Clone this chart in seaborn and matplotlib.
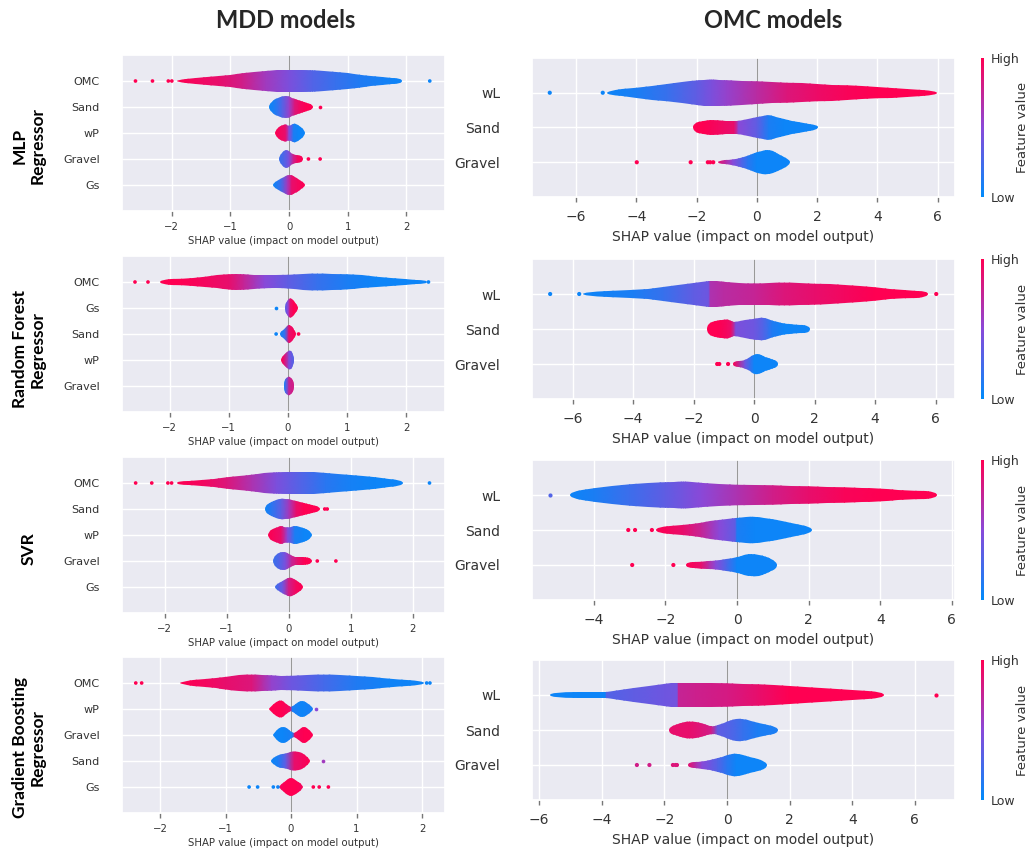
"""
SHAP violin summary plots: MDD models (left) and OMC models (right)
"""

import numpy as np
import matplotlib
matplotlib.use("Agg")
import matplotlib.pyplot as plt
import seaborn as sns
from matplotlib.colors import LinearSegmentedColormap, Normalize
from matplotlib.cm import ScalarMappable
from matplotlib.path import Path
from matplotlib.patches import PathPatch
from matplotlib.ticker import MultipleLocator

sns.set_theme(style="darkgrid")
plt.rcParams["font.family"] = "DejaVu Sans"

CMAP = LinearSegmentedColormap.from_list("shap_red_blue", ["#008bfb", "#8a49d9", "#ff0052"])
XLABEL = "SHAP value (impact on model output)"
WIDTH_SCALE = 1.25   # violin thickness, like shap's width setting

# each violin: knots X (shap value), W (half width, row units), V (feature value 0=low 1=high)
# ── MLP / MDD ────────────────────────────────────────────────────────────────
MLP_MDD_FEATURES = ["OMC", "Sand", "wP", "Gravel", "Gs"]
MLP_MDD_X = [[-1.91, -1.6, -1.2, -0.8, -0.4, 0.0, 0.4, 0.8, 1.2, 1.6, 1.92],
             [-0.34, -0.25, -0.12, 0.0, 0.1, 0.2, 0.3, 0.41],
             [-0.24, -0.15, -0.06, 0.0, 0.08, 0.16, 0.27],
             [-0.17, -0.08, 0.0, 0.08, 0.15, 0.24],
             [-0.27, -0.15, -0.03, 0.05, 0.15, 0.27]]
MLP_MDD_W = [[0.04, 0.08, 0.14, 0.24, 0.32, 0.35, 0.34, 0.28, 0.2, 0.12, 0.08],
             [0.08, 0.25, 0.33, 0.33, 0.25, 0.18, 0.12, 0.06],
             [0.06, 0.22, 0.28, 0.2, 0.3, 0.26, 0.06],
             [0.08, 0.28, 0.25, 0.12, 0.12, 0.06],
             [0.05, 0.18, 0.32, 0.3, 0.2, 0.06]]
MLP_MDD_V = [[1.0, 0.95, 0.9, 0.8, 0.6, 0.45, 0.3, 0.2, 0.12, 0.08, 0.05],
             [0.05, 0.1, 0.3, 0.55, 0.85, 0.95, 1.0, 1.0],
             [1.0, 0.95, 0.9, 0.5, 0.1, 0.05, 0.05],
             [0.2, 0.3, 0.45, 0.8, 0.95, 1.0],
             [0.05, 0.2, 0.6, 0.9, 0.95, 1.0]]
MLP_MDD_DOT_X = [[-2.62, -2.33, -2.06, -2.0, 2.40], [0.52], [], [0.33, 0.53], []]
MLP_MDD_DOT_V = [[1.0, 1.0, 1.0, 1.0, 0.05], [1.0], [], [1.0, 1.0], []]

# ── Random Forest / MDD ──────────────────────────────────────────────────────
RF_MDD_FEATURES = ["OMC", "Gs", "Sand", "wP", "Gravel"]
RF_MDD_X = [[-2.17, -1.8, -1.4, -1.0, -0.75, -0.4, 0.0, 0.5, 1.0, 1.5, 2.0, 2.35],
            [-0.05, 0.0, 0.04, 0.1, 0.17],
            [-0.14, -0.05, 0.02, 0.08, 0.14],
            [-0.11, -0.04, 0.02, 0.07, 0.11],
            [-0.07, -0.03, 0.02, 0.07, 0.1]]
RF_MDD_W = [[0.06, 0.1, 0.16, 0.24, 0.26, 0.2, 0.2, 0.28, 0.24, 0.16, 0.09, 0.05],
            [0.08, 0.25, 0.32, 0.22, 0.05],
            [0.05, 0.15, 0.32, 0.2, 0.05],
            [0.05, 0.22, 0.3, 0.25, 0.06],
            [0.1, 0.25, 0.3, 0.22, 0.08]]
RF_MDD_V = [[1.0, 1.0, 0.95, 0.9, 0.75, 0.5, 0.35, 0.2, 0.1, 0.05, 0.05, 0.05],
            [0.3, 0.5, 0.9, 1.0, 1.0],
            [0.05, 0.2, 0.9, 0.95, 1.0],
            [1.0, 0.8, 0.45, 0.35, 0.3],
            [0.05, 0.3, 0.75, 0.8, 0.8]]
RF_MDD_DOT_X = [[-2.59, -2.37, 2.38], [-0.2], [-0.2, 0.18], [], []]
RF_MDD_DOT_V = [[1.0, 1.0, 0.05], [0.05], [0.05, 1.0], [], []]

# ── SVR / MDD ────────────────────────────────────────────────────────────────
SVR_MDD_FEATURES = ["OMC", "Sand", "wP", "Gravel", "Gs"]
SVR_MDD_X = [[-1.81, -1.4, -1.0, -0.6, -0.2, 0.2, 0.6, 1.0, 1.4, 1.84],
             [-0.39, -0.28, -0.12, 0.0, 0.12, 0.25, 0.38, 0.5],
             [-0.34, -0.22, -0.12, -0.02, 0.1, 0.25, 0.37],
             [-0.26, -0.15, -0.05, 0.05, 0.15, 0.27, 0.37],
             [-0.23, -0.1, 0.0, 0.12, 0.23]]
SVR_MDD_W = [[0.05, 0.1, 0.17, 0.26, 0.33, 0.35, 0.32, 0.25, 0.17, 0.1],
             [0.08, 0.22, 0.33, 0.3, 0.25, 0.18, 0.12, 0.06],
             [0.06, 0.22, 0.3, 0.22, 0.3, 0.22, 0.06],
             [0.08, 0.28, 0.28, 0.14, 0.13, 0.12, 0.06],
             [0.05, 0.2, 0.32, 0.22, 0.05]]
SVR_MDD_V = [[1.0, 0.95, 0.85, 0.65, 0.45, 0.3, 0.15, 0.08, 0.05, 0.05],
             [0.05, 0.15, 0.35, 0.6, 0.9, 1.0, 1.0, 1.0],
             [1.0, 0.95, 0.9, 0.5, 0.1, 0.05, 0.05],
             [0.2, 0.3, 0.45, 0.75, 0.9, 1.0, 1.0],
             [0.2, 0.4, 0.8, 0.95, 1.0]]
SVR_MDD_DOT_X = [[-2.47, -2.21, -1.95, -1.89, 2.27], [0.58, 0.62], [], [0.46, 0.76], []]
SVR_MDD_DOT_V = [[1.0, 1.0, 1.0, 1.0, 0.05], [1.0, 1.0], [], [1.0, 1.0], []]

# ── Gradient Boosting / MDD ──────────────────────────────────────────────────
GB_MDD_FEATURES = ["OMC", "wP", "Gravel", "Sand", "Gs"]
GB_MDD_X = [[-1.7, -1.3, -1.0, -0.6, -0.3, 0.0, 0.5, 1.0, 1.5, 2.03],
            [-0.33, -0.15, -0.02, 0.02, 0.17, 0.33],
            [-0.28, -0.12, 0.02, 0.06, 0.2, 0.33],
            [-0.3, -0.2, -0.08, 0.05, 0.18, 0.29],
            [-0.18, -0.08, 0.0, 0.08, 0.18]]
GB_MDD_W = [[0.04, 0.12, 0.2, 0.28, 0.24, 0.22, 0.28, 0.22, 0.13, 0.07],
            [0.04, 0.33, 0.06, 0.06, 0.3, 0.05],
            [0.04, 0.32, 0.06, 0.06, 0.3, 0.05],
            [0.05, 0.2, 0.22, 0.32, 0.25, 0.05],
            [0.04, 0.2, 0.32, 0.2, 0.04]]
GB_MDD_V = [[1.0, 0.95, 0.9, 0.85, 0.55, 0.4, 0.25, 0.12, 0.06, 0.05],
            [1.0, 1.0, 0.95, 0.1, 0.05, 0.1],
            [0.05, 0.05, 0.1, 0.95, 1.0, 1.0],
            [0.05, 0.1, 0.35, 0.9, 0.95, 1.0],
            [0.95, 1.0, 1.0, 1.0, 0.95]]
GB_MDD_DOT_X = [[-2.37, -2.28, 2.07, 2.12], [0.38], [], [0.49],
                [-0.64, -0.51, -0.27, -0.2, 0.34, 0.43, 0.57]]
GB_MDD_DOT_V = [[1.0, 1.0, 0.05, 0.05], [0.5], [], [0.6],
                [0.05, 0.05, 0.05, 0.05, 1.0, 1.0, 1.0]]

# ── MLP / OMC ────────────────────────────────────────────────────────────────
MLP_OMC_FEATURES = ["wL", "Sand", "Gravel"]
MLP_OMC_X = [[-4.99, -4.0, -3.0, -2.0, -1.5, -1.0, 0.0, 1.0, 2.0, 3.0, 4.0, 5.0, 5.98],
             [-2.13, -1.8, -1.3, -0.75, -0.6, 0.0, 0.4, 0.9, 1.4, 2.03],
             [-1.3, -0.8, -0.3, 0.0, 0.35, 0.7, 1.09]]
MLP_OMC_W = [[0.05, 0.12, 0.2, 0.29, 0.31, 0.3, 0.26, 0.23, 0.2, 0.17, 0.13, 0.09, 0.05],
             [0.08, 0.16, 0.17, 0.15, 0.16, 0.24, 0.3, 0.2, 0.12, 0.06],
             [0.03, 0.06, 0.15, 0.24, 0.3, 0.2, 0.06]]
MLP_OMC_V = [[0.05, 0.1, 0.2, 0.35, 0.45, 0.55, 0.7, 0.85, 0.92, 0.97, 1.0, 1.0, 1.0],
             [1.0, 1.0, 0.95, 0.9, 0.5, 0.35, 0.1, 0.05, 0.05, 0.05],
             [0.9, 0.5, 0.15, 0.05, 0.05, 0.05, 0.05]]
MLP_OMC_DOT_X = [[-6.88, -5.12], [], [-3.99, -2.2, -1.63, -1.55, -1.45]]
MLP_OMC_DOT_V = [[0.05, 0.05], [], [1.0, 1.0, 1.0, 1.0, 1.0]]

# ── Random Forest / OMC ──────────────────────────────────────────────────────
RF_OMC_FEATURES = ["wL", "Sand", "Gravel"]
RF_OMC_X = [[-5.66, -4.0, -3.0, -2.0, -1.5, -1.45, -1.0, 0.0, 1.0, 2.0, 3.0, 4.0, 5.0, 5.75],
            [-1.55, -1.2, -0.9, -0.75, -0.6, 0.0, 0.3, 0.6, 1.0, 1.4, 1.85],
            [-0.69, -0.3, 0.0, 0.25, 0.5, 0.8]]
RF_OMC_W = [[0.05, 0.09, 0.16, 0.26, 0.3, 0.3, 0.28, 0.24, 0.27, 0.24, 0.2, 0.15, 0.1, 0.06],
            [0.12, 0.2, 0.22, 0.18, 0.15, 0.24, 0.28, 0.18, 0.12, 0.1, 0.08],
            [0.06, 0.08, 0.24, 0.2, 0.14, 0.06]]
RF_OMC_V = [[0.05, 0.1, 0.2, 0.35, 0.4, 0.65, 0.7, 0.75, 0.85, 0.9, 0.95, 1.0, 1.0, 1.0],
            [1.0, 1.0, 0.95, 0.9, 0.45, 0.4, 0.3, 0.12, 0.05, 0.05, 0.05],
            [1.0, 0.4, 0.05, 0.05, 0.05, 0.05]]
RF_OMC_DOT_X = [[-6.74, -5.78, 6.02], [], [-1.22, -1.15, -0.86]]
RF_OMC_DOT_V = [[0.05, 0.05, 1.0], [], [1.0, 1.0, 1.0]]

# ── SVR / OMC ────────────────────────────────────────────────────────────────
SVR_OMC_FEATURES = ["wL", "Sand", "Gravel"]
SVR_OMC_X = [[-4.66, -4.0, -3.0, -2.0, -1.5, -1.0, 0.0, 1.0, 2.0, 3.0, 4.0, 5.0, 5.58],
             [-2.26, -1.5, -1.0, -0.5, -0.05, 0.0, 0.5, 1.0, 1.5, 2.09],
             [-1.42, -1.0, -0.6, 0.0, 0.4, 0.8, 1.12]]
SVR_OMC_W = [[0.07, 0.17, 0.25, 0.3, 0.31, 0.27, 0.22, 0.22, 0.2, 0.18, 0.15, 0.1, 0.07],
             [0.07, 0.12, 0.17, 0.22, 0.28, 0.28, 0.31, 0.25, 0.15, 0.07],
             [0.07, 0.08, 0.1, 0.17, 0.28, 0.2, 0.08]]
SVR_OMC_V = [[0.05, 0.1, 0.22, 0.35, 0.42, 0.5, 0.65, 0.8, 0.9, 0.97, 1.0, 1.0, 1.0],
             [1.0, 0.9, 0.75, 0.5, 0.35, 0.1, 0.05, 0.05, 0.05, 0.05],
             [1.0, 0.9, 0.5, 0.05, 0.05, 0.05, 0.05]]
SVR_OMC_DOT_X = [[-5.22], [-3.04, -2.85, -2.38], [-2.93, -1.78]]
SVR_OMC_DOT_V = [[0.3], [1.0, 1.0, 1.0], [1.0, 1.0]]

# ── Gradient Boosting / OMC ──────────────────────────────────────────────────
GB_OMC_FEATURES = ["wL", "Sand", "Gravel"]
GB_OMC_X = [[-5.65, -3.9, -3.85, -3.0, -2.0, -1.6, -1.55, -1.0, 0.0, 1.0, 2.0, 3.0, 4.0, 5.02],
            [-1.85, -1.5, -1.2, -0.8, -0.5, -0.3, 0.1, 0.5, 1.0, 1.63],
            [-1.25, -0.8, -0.3, 0.0, 0.3, 0.7, 1.27]]
GB_OMC_W = [[0.06, 0.06, 0.07, 0.15, 0.25, 0.28, 0.28, 0.28, 0.27, 0.25, 0.2, 0.15, 0.11, 0.07],
            [0.08, 0.17, 0.21, 0.16, 0.08, 0.12, 0.22, 0.27, 0.16, 0.08],
            [0.07, 0.08, 0.15, 0.22, 0.28, 0.18, 0.08]]
GB_OMC_V = [[0.05, 0.05, 0.3, 0.35, 0.4, 0.42, 0.75, 0.78, 0.82, 0.9, 1.0, 1.0, 1.0, 1.0],
            [0.9, 0.9, 0.9, 0.85, 0.8, 0.35, 0.3, 0.2, 0.1, 0.1],
            [0.9, 0.5, 0.3, 0.15, 0.05, 0.05, 0.05]]
GB_OMC_DOT_X = [[6.68], [], [-2.88, -2.48, -1.73, -1.65, -1.6]]
GB_OMC_DOT_V = [[1.0], [], [0.8, 0.8, 0.85, 0.85, 0.85]]

ROW_LABELS = ["MLP\nRegressor", "Random Forest\nRegressor", "SVR", "Gradient Boosting\nRegressor"]
COL_TITLES = ["MDD models", "OMC models"]

# layout in pixels (figure is 1033 x 850)
W_PX, H_PX = 1033, 850
LEFT_X = (122, 445)
RIGHT_X = (532, 955)
LEFT_Y = [(55, 211), (256, 412), (457, 613), (657, 813)]
RIGHT_Y = [(58, 197), (259, 399), (460, 600), (660, 800)]
LEFT_XLIM = [(-2.85, 2.66), (-2.81, 2.66), (-2.69, 2.52), (-2.58, 2.35)]
RIGHT_XLIM = [(-7.47, 6.58), (-7.34, 6.64), (-5.73, 6.09), (-6.23, 7.28)]
ROW_LABEL_Y = [146, 349, 549, 748]

LEFT_DATA = [
    (MLP_MDD_FEATURES, MLP_MDD_X, MLP_MDD_W, MLP_MDD_V, MLP_MDD_DOT_X, MLP_MDD_DOT_V),
    (RF_MDD_FEATURES, RF_MDD_X, RF_MDD_W, RF_MDD_V, RF_MDD_DOT_X, RF_MDD_DOT_V),
    (SVR_MDD_FEATURES, SVR_MDD_X, SVR_MDD_W, SVR_MDD_V, SVR_MDD_DOT_X, SVR_MDD_DOT_V),
    (GB_MDD_FEATURES, GB_MDD_X, GB_MDD_W, GB_MDD_V, GB_MDD_DOT_X, GB_MDD_DOT_V),
]
RIGHT_DATA = [
    (MLP_OMC_FEATURES, MLP_OMC_X, MLP_OMC_W, MLP_OMC_V, MLP_OMC_DOT_X, MLP_OMC_DOT_V),
    (RF_OMC_FEATURES, RF_OMC_X, RF_OMC_W, RF_OMC_V, RF_OMC_DOT_X, RF_OMC_DOT_V),
    (SVR_OMC_FEATURES, SVR_OMC_X, SVR_OMC_W, SVR_OMC_V, SVR_OMC_DOT_X, SVR_OMC_DOT_V),
    (GB_OMC_FEATURES, GB_OMC_X, GB_OMC_W, GB_OMC_V, GB_OMC_DOT_X, GB_OMC_DOT_V),
]


def px_rect(xr, yr):
    return [xr[0] / W_PX, 1 - yr[1] / H_PX, (xr[1] - xr[0]) / W_PX, (yr[1] - yr[0]) / H_PX]


def violin_path(xs, ws, y):
    # closed outline smoothed with quadratic curves through the knot midpoints
    pts = [(x, y + w) for x, w in zip(xs, ws)] + [(x, y - w) for x, w in zip(xs[::-1], ws[::-1])]
    n = len(pts)
    mids = [((pts[i][0] + pts[(i + 1) % n][0]) / 2, (pts[i][1] + pts[(i + 1) % n][1]) / 2)
            for i in range(n)]
    verts, codes = [mids[-1]], [Path.MOVETO]
    for i in range(n):
        verts += [pts[i], mids[i]]
        codes += [Path.CURVE3, Path.CURVE3]
    verts.append(mids[-1])
    codes.append(Path.CLOSEPOLY)
    return Path(verts, codes)


def draw_panel(ax, data, xlim, step, small):
    feats, X, Wd, V, DX, DV = data
    n = len(feats)
    ax.set_axisbelow(True)
    ax.axvline(0, color="#999999", lw=0.8, zorder=1)
    for i, f in enumerate(feats):
        yy = n - 1 - i
        xs, vs = np.array(X[i]), np.array(V[i])
        ws = np.array(Wd[i]) * WIDTH_SCALE
        patch = PathPatch(violin_path(xs, ws, yy), transform=ax.transData,
                          facecolor="none", edgecolor="none")
        ax.add_patch(patch)
        mesh = ax.pcolormesh(np.vstack([xs, xs]),
                             np.vstack([np.full(len(xs), yy - 0.5), np.full(len(xs), yy + 0.5)]),
                             np.vstack([vs, vs]), shading="gouraud", cmap=CMAP,
                             vmin=0, vmax=1, zorder=2)
        mesh.set_clip_path(patch)
        if DX[i]:
            sns.scatterplot(x=DX[i], y=[yy] * len(DX[i]), hue=DV[i], palette=CMAP,
                            hue_norm=(0, 1), s=7 if small else 9, linewidth=0,
                            legend=False, ax=ax, zorder=3)
    ax.set_xlim(*xlim)
    ax.set_ylim(-1, n)
    ax.set_yticks(range(n))
    ax.set_yticklabels(feats[::-1])
    ax.xaxis.set_major_locator(MultipleLocator(step))
    fs = 7.3 if small else 10
    ax.tick_params(axis="y", length=0, pad=16 if small else 23,
                   labelsize=8 if small else 10, labelcolor="#333333")
    ax.tick_params(axis="x", bottom=True, length=3.5, width=1, color="#777777",
                   labelsize=fs, labelcolor="#333333", pad=4.5 if small else 6)
    ax.set_xlabel(XLABEL, fontsize=fs, color="#333333", labelpad=3 if small else 4)
    ax.set_ylabel("")
    ax.grid(True, color="white", lw=1)


fig = plt.figure(figsize=(W_PX / 100, H_PX / 100), dpi=100)
fig.patch.set_facecolor("white")

for r in range(4):
    axl = fig.add_axes(px_rect(LEFT_X, LEFT_Y[r]))
    draw_panel(axl, LEFT_DATA[r], LEFT_XLIM[r], 1, True)
    axr = fig.add_axes(px_rect(RIGHT_X, RIGHT_Y[r]))
    draw_panel(axr, RIGHT_DATA[r], RIGHT_XLIM[r], 2, False)

    cax = fig.add_axes(px_rect((981, 984), RIGHT_Y[r]))
    cb = fig.colorbar(ScalarMappable(norm=Normalize(0, 1), cmap=CMAP), cax=cax)
    cb.outline.set_visible(False)
    cax.grid(False)
    cb.set_ticks([0, 1])
    cb.set_ticklabels(["Low", "High"])
    cax.tick_params(length=0, labelsize=9, pad=5, labelcolor="#333333")
    cb.set_label("Feature value", fontsize=9.5, color="#333333", labelpad=-3)

    fig.text(29 / W_PX, 1 - ROW_LABEL_Y[r] / H_PX, ROW_LABELS[r], rotation=90,
             ha="center", va="center", fontsize=12.5, fontweight="bold",
             family="Lato", linespacing=1.15, color="black", multialignment="center")

fig.text(286 / W_PX, 1 - 20 / H_PX, COL_TITLES[0], ha="center", va="center",
         fontsize=17, fontweight="bold", family="Lato")
fig.text(773 / W_PX, 1 - 20 / H_PX, COL_TITLES[1], ha="center", va="center",
         fontsize=17, fontweight="bold", family="Lato")

fig.savefig("out.png", dpi=100, facecolor="white")
print("saved out.png")
